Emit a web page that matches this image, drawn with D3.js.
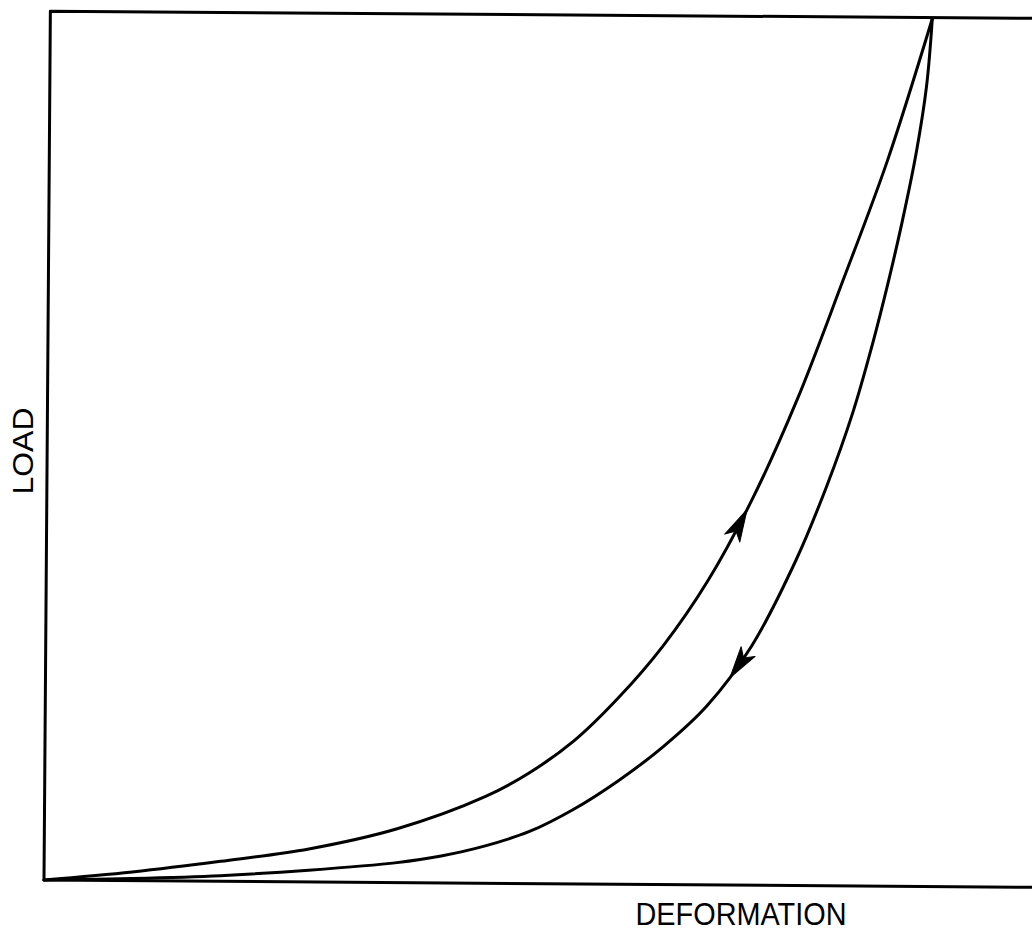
<!DOCTYPE html>
<html>
<head>
<meta charset="utf-8">
<script src="https://cdnjs.cloudflare.com/ajax/libs/d3/7.8.5/d3.min.js"></script>
<style>
  body { margin: 0; background: #fff; }
</style>
</head>
<body>
<script>
// loading branch (upper-left curve), deformation vs load, both in % of peak
var loadingDeform = [0, 10, 20, 30, 40, 50, 55, 60, 65, 70, 75, 80, 85, 90, 95, 100];
var loadingLoad   = [0, 1.0, 2.3, 3.8, 6.2, 10.0, 12.8, 16.5, 21.5, 27.5, 35, 44.5, 56, 69.5, 83.5, 100];

// unloading branch (lower-right curve)
var unloadingDeform = [0, 10, 20, 30, 40, 45, 50, 55, 60, 65, 70, 75, 80, 85, 88.4, 91.3, 93.5, 95.2, 96.8, 98.3, 99.4, 100];
var unloadingLoad   = [0, 0.25, 0.65, 1.35, 2.3, 3.1, 4.3, 6.0, 8.6, 11.9, 15.8, 20.6, 27.5, 37.5, 46, 54.5, 62.5, 69.5, 76.8, 84.6, 92.2, 100];

// where the arrow tips sit (deformation) and which way they point along the branch
var arrowDeform = [79.4, 77.6];
var arrowDir = [1, -1];

var xLabel = "DEFORMATION";
var yLabel = "LOAD";

var width = 1032, height = 931;
var x0 = 44, y0 = 880;

var svg = d3.select("body").append("svg")
    .attr("width", width).attr("height", height)
    .style("background", "white");

var x = d3.scaleLinear().domain([0, 100]).range([x0, 926]);
var y = d3.scaleLinear().domain([0, 100]).range([y0, 12]);

// the scanned figure is turned a little clockwise
var plot = svg.append("g")
    .attr("transform", "rotate(0.42," + x0 + "," + y0 + ")");

// frame: left, top and bottom only, open on the right
plot.append("path")
    .attr("d", "M" + (width + 80) + "," + y(100.1) + "H" + x0 + "V" + y0 + "H" + (width + 80))
    .attr("fill", "none")
    .attr("stroke", "#000")
    .attr("stroke-width", 3)
    .attr("stroke-linejoin", "round");

var line = d3.line()
    .x(function(d) { return x(d[0]); })
    .y(function(d) { return y(d[1]); })
    .curve(d3.curveCatmullRom.alpha(0.5));

var branches = [
  d3.zip(loadingDeform, loadingLoad),
  d3.zip(unloadingDeform, unloadingLoad)
];

var paths = plot.selectAll(".branch").data(branches).enter()
    .append("path")
    .attr("class", "branch")
    .attr("d", line)
    .attr("fill", "none")
    .attr("stroke", "#000")
    .attr("stroke-width", 3)
    .attr("stroke-linecap", "round");

// arrowheads riding on each branch
var headLen = 32, headHalf = 8.5, notch = 8;
paths.each(function(d, i) {
  var node = this;
  var total = node.getTotalLength();
  var target = x(arrowDeform[i]);
  var best = 0, bestDist = Infinity;
  for (var s = 0; s <= total; s += 0.5) {
    var p = node.getPointAtLength(s);
    var dist = Math.abs(p.x - target);
    if (dist < bestDist) { bestDist = dist; best = s; }
  }
  var tip = node.getPointAtLength(best);
  var back = node.getPointAtLength(Math.max(0, Math.min(total, best - arrowDir[i] * headLen)));
  var ang = Math.atan2(tip.y - back.y, tip.x - back.x) * 180 / Math.PI;
  plot.append("path")
      .attr("d", "M0,0L" + (-headLen) + "," + (-headHalf) + "L" + (-headLen + notch) + ",0L" + (-headLen) + "," + headHalf + "Z")
      .attr("transform", "translate(" + tip.x + "," + tip.y + ") rotate(" + ang + ")")
      .attr("fill", "#000")
      .attr("stroke", "#000")
      .attr("stroke-width", 1)
      .attr("stroke-linejoin", "round");
});

// axis titles
svg.append("text")
    .attr("x", 741)
    .attr("y", 925)
    .attr("text-anchor", "middle")
    .attr("font-family", "Liberation Sans, Arial, sans-serif")
    .attr("font-size", 31)
    .attr("textLength", 211)
    .attr("lengthAdjust", "spacingAndGlyphs")
    .text(xLabel);

svg.append("text")
    .attr("transform", "translate(33,451) rotate(-90)")
    .attr("text-anchor", "middle")
    .attr("font-family", "Liberation Sans, Arial, sans-serif")
    .attr("font-size", 30)
    .attr("textLength", 87)
    .attr("lengthAdjust", "spacingAndGlyphs")
    .text(yLabel);
</script>
</body>
</html>
